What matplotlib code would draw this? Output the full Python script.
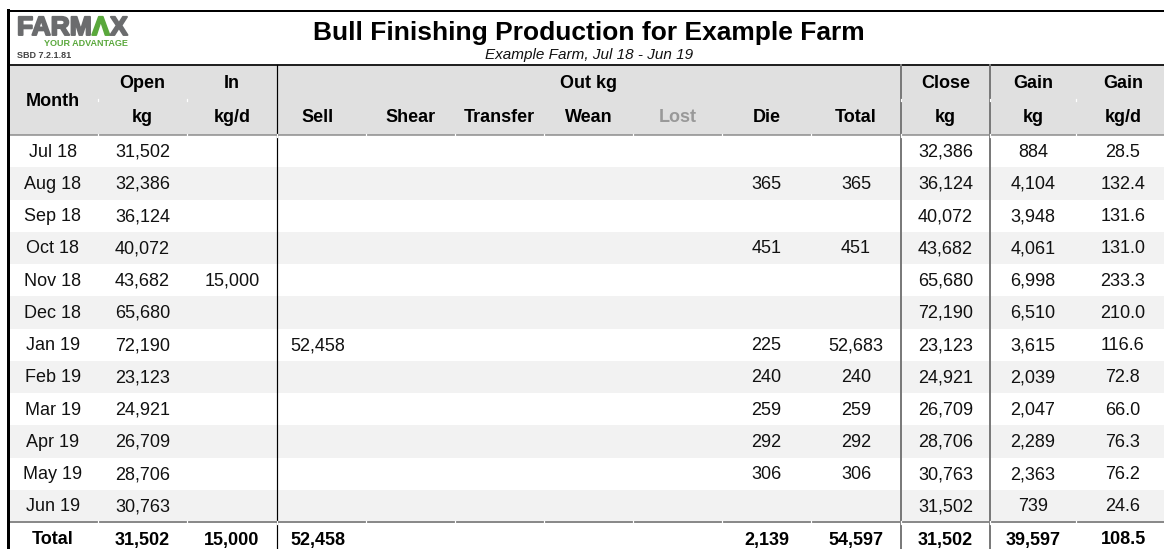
import matplotlib
matplotlib.use("Agg")
from matplotlib import pyplot as plt
from matplotlib.patches import Rectangle
import matplotlib.patheffects as pe

plt.rcParams['font.family'] = ['Liberation Sans', 'DejaVu Sans']

# data
months = ["Jul 18", "Aug 18", "Sep 18", "Oct 18", "Nov 18", "Dec 18",
          "Jan 19", "Feb 19", "Mar 19", "Apr 19", "May 19", "Jun 19"]
open_kg = [31502, 32386, 36124, 40072, 43682, 65680, 72190, 23123, 24921, 26709, 28706, 30763]
in_kg = [None, None, None, None, 15000, None, None, None, None, None, None, None]
sell_kg = [None, None, None, None, None, None, 52458, None, None, None, None, None]
shear_kg = [None] * 12
transfer_kg = [None] * 12
wean_kg = [None] * 12
lost_kg = [None] * 12
die_kg = [None, 365, None, 451, None, None, 225, 240, 259, 292, 306, None]
out_total = [None, 365, None, 451, None, None, 52683, 240, 259, 292, 306, None]
close_kg = [32386, 36124, 40072, 43682, 65680, 72190, 23123, 24921, 26709, 28706, 30763, 31502]
gain_kg = [884, 4104, 3948, 4061, 6998, 6510, 3615, 2039, 2047, 2289, 2363, 739]
gain_kgd = [28.5, 132.4, 131.6, 131.0, 233.3, 210.0, 116.6, 72.8, 66.0, 76.3, 76.2, 24.6]
totals = ["Total", 31502, 15000, 52458, None, None, None, None, 2139, 54597, 31502, 39597, 108.5]

head_top = ["Open", "In", "Close", "Gain", "Gain"]
head_sub = ["kg", "kg/d", "Sell", "Shear", "Transfer", "Wean", "Lost", "Die", "Total", "kg", "kg", "kg/d"]

title = "Bull Finishing Production for Example Farm"
subtitle = "Example Farm, Jul 18 - Jun 19"

# layout (pixels)
W, H = 1164, 549
edges = [8, 98, 187, 277, 366, 455, 544, 633, 722, 811, 901, 990, 1076, 1170]
centers = [(a + b) / 2 for a, b in zip(edges[:-1], edges[1:])]
centers[3] -= 4  # sell column text sits a bit left
hd_top, hd_mid, hd_bot = 65, 100, 135
row_h = 32.25
px = 0.72  # linewidth points per pixel

fig = plt.figure(figsize=(W / 100, H / 100), dpi=100)
ax = fig.add_axes([0, 0, 1, 1])
ax.set_xlim(0, W)
ax.set_ylim(H, 0)
ax.axis('off')

# backgrounds
ax.add_patch(Rectangle((edges[0], hd_top), edges[-1] - edges[0], hd_bot - hd_top,
                       facecolor='#e0e0e0', edgecolor='none'))
for i in range(len(months)):
    if i % 2 == 1:
        y0 = hd_bot + i * row_h
        ax.add_patch(Rectangle((edges[0], y0), edges[-1] - edges[0], row_h,
                               facecolor='#f2f2f2', edgecolor='none'))

tot_top = hd_bot + len(months) * row_h

# lines
ax.plot([edges[0], W], [11, 11], color='black', lw=2 * px)
ax.plot([edges[0], W], [hd_top, hd_top], color='#222222', lw=2 * px)
ax.plot([edges[0], W], [hd_bot, hd_bot], color='#8a8a8a', lw=1.5 * px)
ax.plot([edges[0], W], [tot_top, tot_top], color='#8a8a8a', lw=2 * px)
ax.plot([edges[0], edges[0]], [10, H], color='black', lw=3 * px)
ax.plot([277, 277], [hd_top, H], color='black', lw=1.2 * px)
for x in [901, 990]:
    ax.plot([x, x], [hd_top, H], color='#7a7a7a', lw=2 * px)
# small white breaks at column separators
for x in edges[1:-1]:
    for y in [hd_bot, tot_top]:
        ax.plot([x, x], [y - 1.5, y + 1.5], color='white', lw=1.2 * px)
for x in edges[1:3] + edges[10:13]:
    ax.plot([x, x], [hd_mid - 1, hd_mid + 1], color='white', lw=1.2 * px)

fs = 13
# header text
ax.text(centers[0], (hd_top + hd_bot) / 2 + 1, "Month", ha='center', va='center',
        fontsize=fs, fontweight='bold')
y_top = 83
y_sub = 118
for lab, c in zip(head_top, [centers[1], centers[2], centers[10], centers[11], centers[12]]):
    ax.text(c, y_top, lab, ha='center', va='center', fontsize=fs, fontweight='bold')
ax.text((277 + 901) / 2, y_top, "Out kg", ha='center', va='center', fontsize=fs, fontweight='bold')
for lab, c in zip(head_sub, centers[1:]):
    col = '#999999' if lab == "Lost" else 'black'
    ax.text(c, y_sub, lab, ha='center', va='center', fontsize=fs, fontweight='bold', color=col)


def fmt(v, dec=False):
    if v is None:
        return ""
    if dec:
        return f"{v:.1f}"
    return f"{v:,}"


cols = [open_kg, in_kg, sell_kg, shear_kg, transfer_kg, wean_kg, lost_kg,
        die_kg, out_total, close_kg, gain_kg, gain_kgd]
for i, m in enumerate(months):
    yc = hd_bot + (i + 0.5) * row_h + 1
    ax.text(centers[0], yc, m, ha='center', va='center', fontsize=fs, color='#111111')
    for j, col in enumerate(cols):
        s = fmt(col[i], dec=(j == len(cols) - 1))
        if s:
            ax.text(centers[j + 1], yc, s, ha='center', va='center', fontsize=fs, color='#111111')

yc = tot_top + 18
for j, v in enumerate(totals):
    if isinstance(v, str):
        s = v
    else:
        s = fmt(v, dec=(j == len(totals) - 1))
    if s:
        ax.text(centers[j], yc, s, ha='center', va='center', fontsize=fs, fontweight='bold')

# title block
ax.text(589, 33, title, ha='center', va='center', fontsize=19, fontweight='bold')
ax.text(589, 55, subtitle, ha='center', va='center', fontsize=11, style='italic', color='#111111')

# logo
fig.canvas.draw()
r = fig.canvas.get_renderer()
inv = ax.transData.inverted()
x = 17
grey = '#6b6c6e'
green = '#5aa83c'
for part, c in [("FARM", grey), ("\u039b", green), ("X", grey)]:
    t = ax.text(x, 35, part, ha='left', va='baseline', fontsize=19, fontweight='bold', color=c,
                path_effects=[pe.withStroke(linewidth=1.4, foreground=c)])
    bb = t.get_window_extent(r)
    x = inv.transform((bb.x1, bb.y0))[0] + 0.5
ax.text(x, 44, "YOUR ADVANTAGE", ha='right', va='center', fontsize=6.5, fontweight='bold', color=green)
ax.text(17, 55, "SBD 7.2.1.81", ha='left', va='center', fontsize=6.5, fontweight='bold', color='#444444')

fig.savefig("out.png", dpi=100)
